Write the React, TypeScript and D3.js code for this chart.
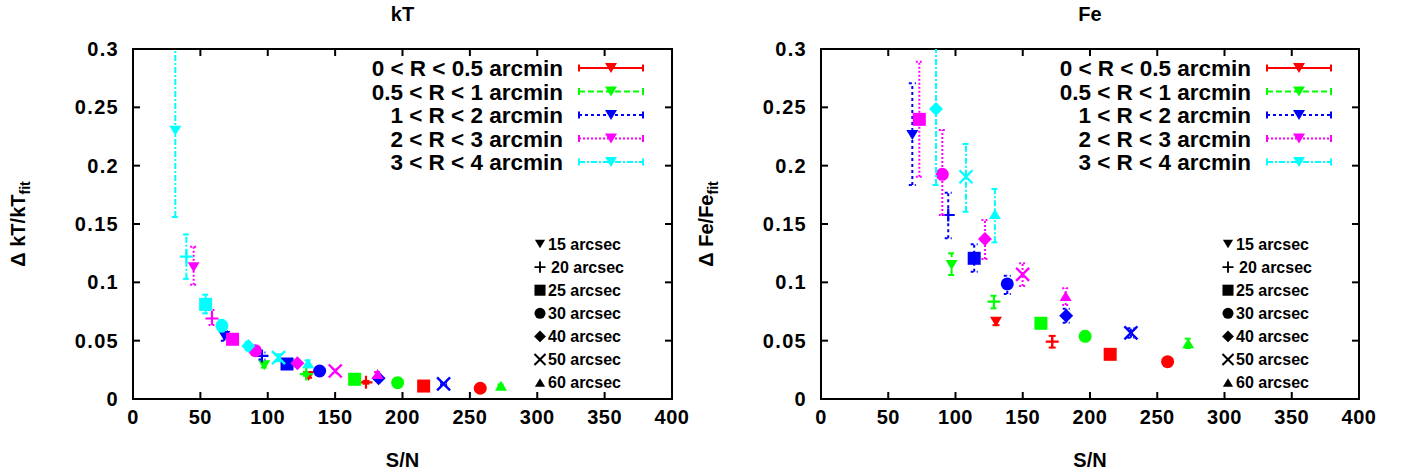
import React from "react";
import * as d3 from "d3";

// ---------- data ----------
const seriesLabels = [
  "0 < R < 0.5 arcmin",
  "0.5 < R < 1 arcmin",
  "1 < R < 2 arcmin",
  "2 < R < 3 arcmin",
  "3 < R < 4 arcmin",
];
const markerLabels = [
  "15 arcsec",
  "20 arcsec",
  "25 arcsec",
  "30 arcsec",
  "40 arcsec",
  "50 arcsec",
  "60 arcsec",
];
const xTicks = [0, 50, 100, 150, 200, 250, 300, 350, 400];
const yTicks = [0, 0.05, 0.1, 0.15, 0.2, 0.25, 0.3];
const yTickLabels = ["0", "0.05", "0.1", "0.15", "0.2", "0.25", "0.3"];

// [S/N, value, lower, upper, marker index]
const kT_R1 = [
  [130.3, 0.0197, 0.0182, 0.0212, 0],
  [172.9, 0.0143, 0.0131, 0.0155, 1],
  [215.7, 0.0111, 0.0101, 0.0121, 2],
  [257.7, 0.0092, 0.0082, 0.0102, 3],
];
const kT_R2 = [
  [97.4, 0.029, 0.027, 0.031, 0],
  [128.6, 0.0214, 0.0199, 0.0229, 1],
  [164.5, 0.0169, 0.0157, 0.0181, 2],
  [196.4, 0.014, 0.013, 0.015, 3],
  [273.1, 0.0114, 0.0104, 0.0124, 6],
];
const kT_R3 = [
  [67.8, 0.054, 0.05, 0.058, 0],
  [95.7, 0.0369, 0.0339, 0.0399, 1],
  [114.3, 0.03, 0.028, 0.032, 2],
  [138.5, 0.024, 0.0222, 0.0258, 3],
  [182.3, 0.0177, 0.0163, 0.0191, 4],
  [230.5, 0.0129, 0.0119, 0.0139, 5],
];
const kT_R4 = [
  [45.0, 0.113, 0.098, 0.1305, 0],
  [58.6, 0.069, 0.0634, 0.0763, 1],
  [73.9, 0.0512, 0.0472, 0.0552, 2],
  [90.8, 0.0414, 0.0384, 0.0444, 3],
  [122.0, 0.0306, 0.0281, 0.0331, 4],
  [150.1, 0.024, 0.022, 0.026, 5],
  [181.5, 0.0214, 0.0196, 0.0232, 6],
];
const kT_R5 = [
  [31.4, 0.23, 0.156, 0.304, 0],
  [39.6, 0.122, 0.103, 0.141, 1],
  [53.9, 0.0811, 0.0734, 0.0894, 2],
  [66.0, 0.0628, 0.0578, 0.0678, 3],
  [85.6, 0.0454, 0.0419, 0.0489, 4],
  [108.0, 0.0354, 0.0324, 0.0384, 5],
  [129.9, 0.0306, 0.0281, 0.0331, 6],
];

const Fe_R1 = [
  [130.1, 0.0663, 0.0633, 0.0693, 0],
  [171.9, 0.0491, 0.0441, 0.0541, 1],
  [215.0, 0.0383, 0.0353, 0.0413, 2],
  [257.7, 0.032, 0.029, 0.035, 3],
];
const Fe_R2 = [
  [97.1, 0.1149, 0.1063, 0.1249, 0],
  [128.6, 0.0834, 0.0777, 0.0885, 1],
  [163.5, 0.0649, 0.0609, 0.0689, 2],
  [196.4, 0.0537, 0.0497, 0.0577, 3],
  [273.0, 0.0477, 0.0437, 0.0517, 6],
];
const Fe_R3 = [
  [67.9, 0.2263, 0.1834, 0.2706, 0],
  [94.6, 0.1577, 0.1377, 0.1768, 1],
  [113.9, 0.1206, 0.1091, 0.1326, 2],
  [138.5, 0.0986, 0.09, 0.1057, 3],
  [182.3, 0.0714, 0.0654, 0.0774, 4],
  [230.4, 0.0566, 0.0526, 0.0606, 5],
];
const Fe_R4 = [
  [73.1, 0.2397, 0.1906, 0.2891, 2],
  [90.2, 0.1926, 0.1577, 0.2306, 3],
  [121.9, 0.1371, 0.12, 0.1534, 4],
  [149.9, 0.1069, 0.0969, 0.1163, 5],
  [181.9, 0.0883, 0.0806, 0.0949, 6],
];
const Fe_R5 = [
  [85.5, 0.2486, 0.1834, 0.3138, 4],
  [107.8, 0.1905, 0.1605, 0.2186, 5],
  [129.3, 0.1586, 0.1343, 0.18, 6],
];

// ---------- styles ----------
const colors = ["#ff0000", "#00ff00", "#0000ff", "#ff00ff", "#00ffff"];
const dashes = ["", "6,3", "3,3", "2,2", "6,2,2,2"];
const FONT = "'Liberation Sans', Arial, Helvetica, sans-serif";

const TOP = 49;
const BOTTOM = 399;

function Marker({ m, x, y, fill, s = 1 }: { m: number; x: number; y: number; fill: string; s?: number }) {
  const t = `translate(${x},${y}) scale(${s})`;
  switch (m) {
    case 0:
      return <path transform={t} d="M-6,-5L6,-5L0,5Z" fill={fill} />;
    case 1:
      return (
        <path transform={t} d="M-6.5,0H6.5M0,-6.5V6.5" stroke={fill} strokeWidth={2.2} fill="none" />
      );
    case 2:
      return <rect transform={t} x={-6.5} y={-6.5} width={13} height={13} fill={fill} />;
    case 3:
      return <circle transform={t} r={6.5} fill={fill} />;
    case 4:
      return <path transform={t} d="M0,-7L7,0L0,7L-7,0Z" fill={fill} />;
    case 5:
      return (
        <path transform={t} d="M-6.5,-6.5L6.5,6.5M-6.5,6.5L6.5,-6.5" stroke={fill} strokeWidth={2.4} fill="none" />
      );
    default:
      return <path transform={t} d="M-6,5L6,5L0,-5Z" fill={fill} />;
  }
}

type Row = number[];

function Panel({
  left,
  right,
  title,
  yMain,
  ySub,
  series,
  clipId,
}: {
  left: number;
  right: number;
  title: string;
  yMain: string;
  ySub: string;
  series: Row[][];
  clipId: string;
}) {
  const x = d3.scaleLinear().domain([0, 400]).range([left, right]);
  const y = d3.scaleLinear().domain([0, 0.3]).range([BOTTOM, TOP]);
  const cx = (left + right) / 2;
  const tl = 7;
  return (
    <g>
      <defs>
        <clipPath id={clipId}>
          <rect x={left} y={TOP} width={right - left} height={BOTTOM - TOP} />
        </clipPath>
      </defs>
      {/* title */}
      <text x={cx} y={21} textAnchor="middle" fontFamily={FONT} fontWeight="bold" fontSize={20}>
        {title}
      </text>
      {/* x label */}
      <text x={cx} y={467} textAnchor="middle" fontFamily={FONT} fontWeight="bold" fontSize={20}>
        S/N
      </text>
      {/* y label */}
      <text
        transform={`translate(${left - 108},${(TOP + BOTTOM) / 2}) rotate(-90)`}
        textAnchor="middle"
        fontFamily={FONT}
        fontWeight="bold"
        fontSize={20}
      >
        {yMain}
        <tspan fontSize={14} dy={5}>
          {ySub}
        </tspan>
      </text>
      {/* ticks */}
      {xTicks.map((t) => (
        <g key={"x" + t}>
          <line x1={x(t)} x2={x(t)} y1={BOTTOM} y2={BOTTOM - tl} stroke="#000" strokeWidth={2} />
          <line x1={x(t)} x2={x(t)} y1={TOP} y2={TOP + tl} stroke="#000" strokeWidth={2} />
          <text x={x(t)} y={424} textAnchor="middle" fontFamily={FONT} fontWeight="bold" fontSize={20} letterSpacing={0.5}>
            {t}
          </text>
        </g>
      ))}
      {yTicks.map((t, i) => (
        <g key={"y" + t}>
          <line x1={left} x2={left + tl} y1={y(t)} y2={y(t)} stroke="#000" strokeWidth={2} />
          <line x1={right} x2={right - tl} y1={y(t)} y2={y(t)} stroke="#000" strokeWidth={2} />
          <text
            x={left - 14}
            y={y(t) + 7}
            textAnchor="end"
            fontFamily={FONT}
            fontWeight="bold"
            fontSize={20}
            letterSpacing={1.3}
          >
            {yTickLabels[i]}
          </text>
        </g>
      ))}
      {/* border */}
      <rect x={left} y={TOP} width={right - left} height={BOTTOM - TOP} fill="none" stroke="#000" strokeWidth={2} />

      {/* data */}
      <g clipPath={`url(#${clipId})`}>
        {series.map((rows, si) => (
          <g key={si}>
            {rows.map((r, i) => {
              const px = x(r[0]);
              const ylo = y(r[2]);
              const yhi = y(r[3]);
              return (
                <g key={i} stroke={colors[si]} strokeWidth={2} strokeDasharray={dashes[si]} fill="none">
                  <line x1={px} x2={px} y1={ylo} y2={yhi} />
                  <line x1={px - 3.5} x2={px + 3.5} y1={ylo} y2={ylo} strokeDasharray="" />
                  <line x1={px - 3.5} x2={px + 3.5} y1={yhi} y2={yhi} strokeDasharray="" />
                </g>
              );
            })}
            {rows.map((r, i) => (
              <Marker key={"m" + i} m={r[4]} x={x(r[0])} y={y(r[1])} fill={colors[si]} />
            ))}
          </g>
        ))}
      </g>

      {/* series key */}
      {seriesLabels.map((lab, i) => {
        const yy = 68 + i * 23.5;
        const x1 = left + 446;
        const x2 = left + 510;
        return (
          <g key={"k" + i}>
            <text
              x={left + 430}
              y={yy + 8}
              textAnchor="end"
              fontFamily={FONT}
              fontWeight="bold"
              fontSize={22.5}
            >
              {lab}
            </text>
            <g stroke={colors[i]} strokeWidth={2} fill="none">
              <line x1={x1} x2={x2} y1={yy} y2={yy} strokeDasharray={dashes[i]} />
              <line x1={x1} x2={x1} y1={yy - 3.5} y2={yy + 3.5} />
              <line x1={x2} x2={x2} y1={yy - 3.5} y2={yy + 3.5} />
            </g>
            <Marker m={0} x={(x1 + x2) / 2} y={yy} fill={colors[i]} />
          </g>
        );
      })}

      {/* marker key */}
      {markerLabels.map((lab, i) => {
        const yy = 244 + i * 23.1;
        return (
          <g key={"mk" + i}>
            <Marker m={i} x={left + 407} y={yy} fill="#000" s={0.85} />
            <text
              x={left + (i === 1 ? 418 : 415)}
              y={yy + 5.5}
              fontFamily={FONT}
              fontWeight="bold"
              fontSize={16}
            >
              {lab}
            </text>
          </g>
        );
      })}
    </g>
  );
}

export default function App() {
  return (
    <svg
      width={1406}
      height={475}
      style={{ position: "absolute", left: 0, top: 0, background: "#fff" }}
    >
      <rect width={1406} height={475} fill="#fff" />
      <Panel
        left={133}
        right={672}
        title="kT"
        yMain="Δ kT/kT"
        ySub="fit"
        series={[kT_R1, kT_R2, kT_R3, kT_R4, kT_R5]}
        clipId="clipL"
      />
      <Panel
        left={821}
        right={1359}
        title="Fe"
        yMain="Δ Fe/Fe"
        ySub="fit"
        series={[Fe_R1, Fe_R2, Fe_R3, Fe_R4, Fe_R5]}
        clipId="clipR"
      />
    </svg>
  );
}
